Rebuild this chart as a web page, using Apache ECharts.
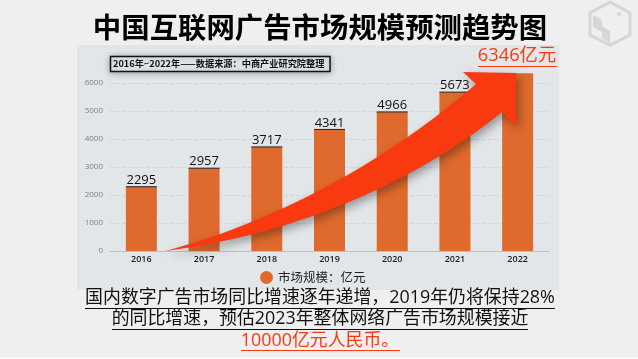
<!DOCTYPE html>
<html><head><meta charset="utf-8">
<style>html,body{margin:0;padding:0;background:#efefef}#c{width:638px;height:359px}</style>
<script src="https://cdn.jsdelivr.net/npm/echarts@6/dist/echarts.min.js"></script>
</head><body><div id="c"></div>
<script>
const categories = ['2016','2017','2018','2019','2020','2021','2022'];
const values = [2295,2957,3717,4341,4966,5673,6346];
const seriesName = '市场规模：亿元';
const titleText = '中国互联网广告市场规模预测趋势图';
const noteText = '2016年~2022年——数据来源：中商产业研究院整理';
const lastLabel = '6346亿元';
const captionLines = ['国内数字广告市场同比增速逐年递增，2019年仍将保持28%','的同比增速，预估2023年整体网络广告市场规模接近','10000亿元人民币。'];
const CJK = '"Noto Sans CJK SC","Noto Sans",sans-serif';
const LATIN = '"Open Sans","Noto Sans CJK SC",sans-serif';
const chart = echarts.init(document.getElementById('c'));
function hline(x1,x2,y,color,w){return {type:'line',silent:true,shape:{x1,y1:y,x2,y2:y},style:{stroke:color,lineWidth:w||1},z:20};}
function txt(x,y,text,font,fill,align,z){return {type:'text',silent:true,x,y,z:z||20,style:{text,font,fill,align:align||'center',verticalAlign:'middle'}};}
function bez(p0,p1,p2,p3,n){const out=[];for(let i=0;i<=n;i++){const t=i/n,u=1-t;out.push([0,1].map(k=>u*u*u*p0[k]+3*u*u*t*p1[k]+3*u*t*t*p2[k]+t*t*t*p3[k]));}return out;}
const arrowPoints = [
  ...bez([165,251],[270,238],[400,195],[502,112],40),
  [516,126],[516,73],[463,72],[476,84],
  ...bez([476,84],[400,150],[290,218],[165,251],40)
];
chart.setOption({
  animation:false,
  backgroundColor:'#efefef',
  grid:{left:110,right:89,top:83,bottom:108},
  legend:{show:true,left:260,top:271,icon:'circle',itemWidth:13,itemHeight:13,itemGap:1,padding:0,
    textStyle:{fontFamily:CJK,fontSize:12.5,color:'#222'},data:[seriesName]},
  xAxis:{type:'category',data:categories,axisTick:{show:false},
    axisLine:{lineStyle:{color:'#bdbfc1'}},
    axisLabel:{fontFamily:LATIN,fontSize:9,fontWeight:600,color:'#222',margin:4}},
  yAxis:{type:'value',min:0,max:6000,interval:1000,
    axisLine:{show:false},axisTick:{show:false},
    splitLine:{lineStyle:{type:'dashed',color:'#d3d6d8',width:1}},
    axisLabel:{fontFamily:LATIN,fontSize:8,color:'#808080',margin:7,formatter:v=>String(v)}},
  series:[
    {name:seriesName,type:'bar',data:values,barWidth:31,z:3,clip:false,
     itemStyle:{color:'#df6a2e'},
     label:{show:true,position:'top',distance:0,fontFamily:LATIN,fontSize:13,color:'#111',
       formatter:p=>p.dataIndex===values.length-1?'':String(p.value)}},
    {type:'custom',z:4,clip:false,silent:true,data:values.slice(0,-1).map((v,i)=>[i,v]),
     renderItem:(params,api)=>{
       const c=api.coord([api.value(0),api.value(1)]);
       return {type:'line',shape:{x1:c[0]-15.5,y1:c[1],x2:c[0]+15.5,y2:c[1]},style:{stroke:'#222',lineWidth:1}};
     }}
  ],
  graphic:[
    {type:'rect',silent:true,z:-1,shape:{x:77,y:45,width:482,height:245},style:{fill:'#e2e6e8'}},
    txt(320,27,titleText,'bold 28.4px '+CJK,'#000'),
    {type:'rect',silent:true,z:6,shape:{x:110.5,y:56.5,width:219.5,height:15},
      style:{fill:'#e2e6e8',stroke:'#111',lineWidth:1.5,shadowBlur:6,shadowColor:'rgba(0,0,0,0.3)',shadowOffsetY:1}},
    txt(113,64,noteText,'bold 9.2px '+CJK,'#111','left'),
    {type:'polygon',silent:true,z:10,shape:{points:arrowPoints},
      style:{fill:'#f9390f',shadowBlur:10,shadowColor:'rgba(0,0,0,0.35)',shadowOffsetX:3,shadowOffsetY:4}},
    txt(517,56,lastLabel,'18.3px '+LATIN,'#f9390f'),
    hline(478,557,66.5,'#f9390f',1),
    txt(320,298,captionLines[0],'17.9px '+LATIN,'#111'),
    hline(85,555,308.5,'#111',1),
    txt(320,319,captionLines[1],'17.9px '+LATIN,'#111'),
    hline(112,528,329.5,'#111',1),
    txt(320,341,captionLines[2],'17.9px '+LATIN,'#f9390f'),
    hline(241,400,350.5,'#f9390f',1),
    {type:'rect',silent:true,z:1,shape:{x:0,y:357,width:638,height:2},style:{fill:'#fbfbfb'}},
    {type:'polygon',silent:true,z:1,shape:{points:[[610,2],[630,13],[630,35],[610,45],[590,35],[590,13]]},style:{fill:'none',stroke:'#d6d6d6',lineWidth:3}},
    {type:'polygon',silent:true,z:1,shape:{points:[[593,15],[602,20],[602,26],[610,31],[610,43],[602,38],[602,32],[593,27]]},style:{fill:'#d6d6d6'}},
    {type:'circle',silent:true,z:1,shape:{cx:619,cy:14,r:2},style:{fill:'#d6d6d6'}}
  ]
});
</script></body></html>
